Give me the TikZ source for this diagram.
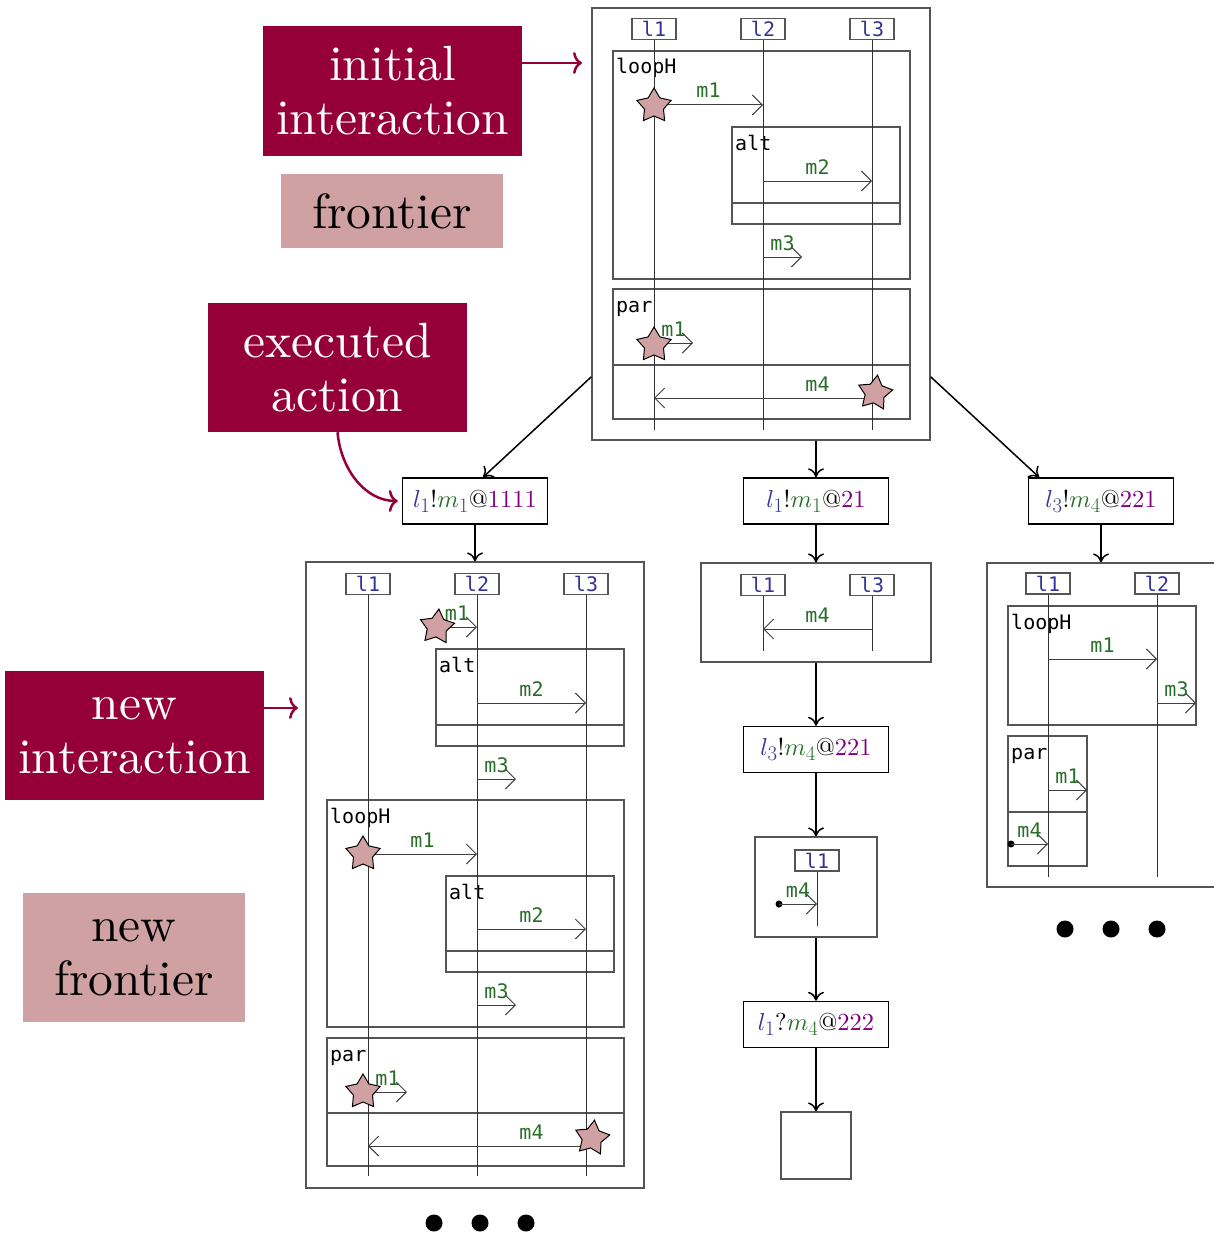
\documentclass[tikz,border=0pt]{standalone}
\usepackage{fontspec}
\setmonofont{DejaVu Sans Mono}
\newfontfamily\legendfont{lmroman10-regular}[Extension=.otf]
\usepackage{xcolor}
\usepackage{tikz}
\usetikzlibrary{positioning, shapes, arrows.meta, calc}

% math italic drawn from the 10pt design at every size
\DeclareFontShape{OML}{cmm}{m}{it}{<->cmmi10}{}
\DeclareMathSizes{24.5}{24.5}{20}{15}

\definecolor{bordeaux}{RGB}{150,0,57}
\definecolor{rosy}{RGB}{208,161,162}
\definecolor{llblue}{RGB}{51,51,153}
\definecolor{msggreen}{RGB}{40,110,40}
\definecolor{posviolet}{RGB}{128,0,128}
\definecolor{framegray}{RGB}{85,85,85}

\newcommand{\seqfont}{\ttfamily\fontsize{20}{22}\selectfont}
\newcommand{\bigfont}{\legendfont\fontsize{49.5}{54}\selectfont}
\newcommand{\act}[4]{\textcolor{llblue}{$l_{#1}$}#2\textcolor{msggreen}{$m_{#3}$}@\textcolor{posviolet}{#4}}

\tikzset{
  darkbox/.style={fill=bordeaux, text=white, align=center, font=\bigfont, inner sep=0pt, minimum width=259pt},
  palebox/.style={fill=rosy, text=black, align=center, font=\bigfont, inner sep=0pt, minimum width=222pt},
  frame/.style={draw=framegray, line width=1.2pt, inner sep=0pt},
  actbox/.style={draw=black, line width=1.5pt, minimum width=145pt, minimum height=46pt, inner sep=0pt, font=\legendfont\fontsize{24.5}{30}\selectfont},
  lhead/.style={draw=framegray, line width=1.2pt, minimum width=44pt, minimum height=21pt, inner sep=0pt, text=llblue, font=\seqfont},
  life/.style={draw=black!80, line width=1pt},
  frag/.style={draw=framegray, line width=1.2pt},
  fraglabel/.style={anchor=base west, inner sep=0pt, font=\seqfont},
  msg/.style={draw=black!75, line width=1pt, -{Straight Barb[length=10pt, width=20pt]}},
  mlab/.style={pos=0.5, anchor=base, inner sep=0pt, yshift=7pt, text=msggreen, font=\seqfont},
  estar/.style={star, star points=5, star point ratio=1.8, minimum size=36pt, inner sep=0pt, draw=black, line width=1pt, fill=rosy},
  gatedot/.style={circle, fill=black, inner sep=0pt, minimum size=7pt},
  trans/.style={line width=1.5pt, -{To[length=9pt, width=16pt]}},
  pointer/.style={draw=bordeaux, line width=2.5pt, -{To[length=9pt, width=22pt]}},
  more/.style={circle, fill=black, inner sep=0pt, minimum size=17pt}
}

\begin{document}
\begin{tikzpicture}[x=1pt, y=-1pt]
        \useasboundingbox (0,0) rectangle (1214,1236);
        \clip (0,0) rectangle (1214,1236);

        % Legend boxes
        \node[darkbox, minimum height=130pt] (lbInit) at (392.5,91) {initial\\interaction};
        \node[palebox, minimum height=74pt] (lbFront) at (392,211) {frontier};
        \node[darkbox, minimum height=129pt] (lbExec) at (337.5,367.5) {executed\\action};
        \node[darkbox, minimum height=129pt] (lbNew) at (134.5,735.5) {new\\interaction};
        \node[palebox, minimum height=129pt] (lbNewFront) at (134,957.5) {new\\frontier};

        % Interaction frames
        \node[frame, minimum width=338pt, minimum height=432pt] (ini) at (761,224) {};
        \node[frame, minimum width=338pt, minimum height=626pt] (fa) at (475,875) {};
        \node[frame, minimum width=230pt, minimum height=99pt] (fb) at (816,612.5) {};
        \node[frame, minimum width=233pt, minimum height=324pt] (fc) at (1103.5,725) {};
        \node[frame, minimum width=122pt, minimum height=100pt] (fd) at (816,887) {};
        \node[frame, minimum width=70pt, minimum height=67pt] (fe) at (816,1145.5) {};

        % Executed actions
        \node[actbox] (n1) at (475,501) {\act{1}{!}{1}{1111}};
        \node[actbox] (n2) at (816,501) {\act{1}{!}{1}{21}};
        \node[actbox] (n3) at (1101,501) {\act{3}{!}{4}{221}};
        \node[actbox] (n4) at (816,749.5) {\act{3}{!}{4}{221}};
        \node[actbox] (n5) at (816,1024.5) {\act{1}{?}{4}{222}};

        % Execution steps
        \draw[trans] (ini.222) -- ([xshift=8pt]n1.north);
        \draw[trans] (n2.north |- ini.south) -- (n2);
        \draw[trans] (ini.318) -- (n3.159);
        \draw[trans] (n1) -- (fa);
        \draw[trans] (n2) -- (fb);
        \draw[trans] (n3) -- (n3 |- fc.north);
        \draw[trans] (fb) -- (n4);
        \draw[trans] (n4) -- (fd);
        \draw[trans] (fd) -- (n5);
        \draw[trans] (n5) -- (fe);

        % Legend pointers
        \coordinate (iniTip) at (582,63);
        \coordinate (newTip) at (298,708);
        \draw[pointer] (lbInit.east |- iniTip) -- (iniTip);
        \draw[pointer] (lbNew.east |- newTip) -- (newTip);
        \draw[pointer, shorten >=4pt] (lbExec.south) to[out=-85, in=180] (n1.west);

        % Initial interaction
        \draw[frag] (613,51) rectangle (910,279);
        \node[fraglabel] (iLoop) at (616,74) {loopH};
        \draw[frag] (732,127) rectangle (900,224);
        \draw[frag] (732,203) -- (900,203);
        \node[fraglabel] (iAlt) at (735,150) {alt};
        \draw[frag] (613,289) rectangle (910,419);
        \draw[frag] (613,365) -- (910,365);
        \node[fraglabel] (iPar) at (616,312) {par};
        \foreach \x/\i in {654/1,763/2,872/3}{
          \node[lhead] (iL\i) at (\x,29) {l\i};
          \draw[life] (iL\i) -- (\x,430);
        }
        \draw[msg] (654,105) -- (763,105) node[mlab] {m1};
        \draw[msg] (763,181) -- (872,181) node[mlab] {m2};
        \draw[msg] (763,257) -- (802,257) node[mlab] {m3};
        \draw[msg] (654,343) -- (693,343) node[mlab] {m1};
        \draw[msg] (872,398) -- (654,398) node[mlab, pos=0.25] {m4};
        \node[estar] (iS1) at (654,106) {};
        \node[estar] (iS2) at (654,345) {};
        \node[estar, rotate=-8] (iS3) at (875,393) {};

        % New interaction after l1!m1@1111
        \draw[frag] (436,649) rectangle (624,746);
        \draw[frag] (436,725) -- (624,725);
        \node[fraglabel] (aAlt) at (439,672) {alt};
        \draw[frag] (327,800) rectangle (624,1027);
        \node[fraglabel] (aLoop) at (330,823) {loopH};
        \draw[frag] (446,876) rectangle (614,972);
        \draw[frag] (446,951) -- (614,951);
        \node[fraglabel] (aAltB) at (449,899) {alt};
        \draw[frag] (327,1038) rectangle (624,1166);
        \draw[frag] (327,1113) -- (624,1113);
        \node[fraglabel] (aPar) at (330,1061) {par};
        \foreach \x/\i in {368/1,477/2,586/3}{
          \node[lhead] (aL\i) at (\x,584) {l\i};
          \draw[life] (aL\i) -- (\x,1176);
        }
        \draw[msg] (437,627) -- (477,627) node[mlab] {m1};
        \draw[msg] (477,703) -- (586,703) node[mlab] {m2};
        \draw[msg] (477,779) -- (516,779) node[mlab] {m3};
        \draw[msg] (368,854) -- (477,854) node[mlab] {m1};
        \draw[msg] (477,929) -- (586,929) node[mlab] {m2};
        \draw[msg] (477,1005) -- (516,1005) node[mlab] {m3};
        \draw[msg] (368,1092) -- (407,1092) node[mlab] {m1};
        \draw[msg] (586,1146) -- (368,1146) node[mlab, pos=0.25] {m4};
        \node[estar, rotate=-6] (aS1) at (437,627) {};
        \node[estar] (aS2) at (363,854) {};
        \node[estar] (aS3) at (363,1092) {};
        \node[estar, rotate=-8] (aS4) at (592,1138) {};

        % New interaction after l1!m1@21
        \foreach \x/\i in {763/1,872/3}{
          \node[lhead] (bL\i) at (\x,585) {l\i};
          \draw[life] (bL\i) -- (\x,651);
        }
        \draw[msg] (872,629) -- (763,629) node[mlab] {m4};

        % New interaction after l3!m4@221
        \node[lhead] (dL1) at (817,860.5) {l1};
        \draw[life] (dL1) -- (817,926);
        \node[gatedot] (dDot) at (779,904) {};
        \draw[msg] (dDot.center) -- (817,904) node[mlab] {m4};

        % New interaction after l3!m4@221 (right branch)
        \draw[frag] (1008,606) rectangle (1196,725);
        \node[fraglabel] (cLoop) at (1011,629) {loopH};
        \draw[frag] (1008,736) rectangle (1087,866);
        \draw[frag] (1008,812) -- (1087,812);
        \node[fraglabel] (cPar) at (1011,759) {par};
        \foreach \x/\i in {1048/1,1157/2}{
          \node[lhead] (cL\i) at (\x,583.5) {l\i};
          \draw[life] (cL\i) -- (\x,877);
        }
        \draw[msg] (1048,659) -- (1157,659) node[mlab] {m1};
        \draw[msg] (1157,703) -- (1196,703) node[mlab] {m3};
        \draw[msg] (1048,790) -- (1087,790) node[mlab] {m1};
        \node[gatedot] (cDot) at (1011,844) {};
        \draw[msg] (cDot.center) -- (1048,844) node[mlab] {m4};

        % Further steps not shown
        \foreach \x [count=\k] in {434,480,526}{
          \node[more] (dotsA\k) at (\x,1223) {};
        }
        \foreach \x [count=\k] in {1065,1111,1157}{
          \node[more] (dotsC\k) at (\x,929) {};
        }
\end{tikzpicture}
\end{document}
